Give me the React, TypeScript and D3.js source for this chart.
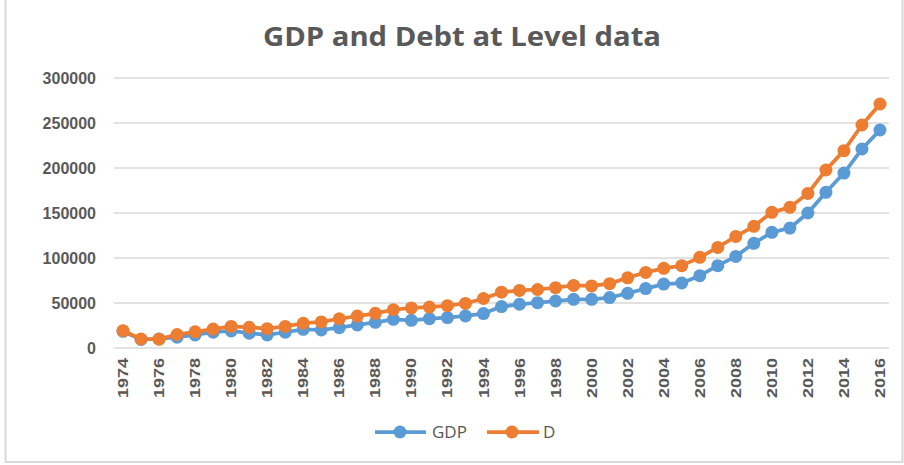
import React from "react";
import * as d3 from "d3";

const years = ["1974","1975","1976","1977","1978","1979","1980","1981","1982","1983","1984","1985","1986","1987","1988","1989","1990","1991","1992","1993","1994","1995","1996","1997","1998","1999","2000","2001","2002","2003","2004","2005","2006","2007","2008","2009","2010","2011","2012","2013","2014","2015","2016"];
const gdp = [18500,9500,10000,12000,14500,17500,19000,16500,14500,17500,20700,20000,22600,25600,28500,31900,30800,32600,33800,35600,38200,46000,48600,50400,52200,54100,54100,56000,60800,66000,71000,72200,80400,91500,101800,116300,128500,133300,150000,173000,194400,221100,242200];
const debt = [19200,10000,9800,15000,18000,21000,24000,23000,21500,24000,27500,29000,32500,35500,38500,42500,44500,45500,47000,49500,55000,62000,64000,65000,67000,69500,69000,71500,78000,84000,88500,91500,100700,111800,124000,135200,150700,156300,171800,197800,219300,247800,271100];
const yTicks = [0,50000,100000,150000,200000,250000,300000];
const xTickLabels = ["1974","1976","1978","1980","1982","1984","1986","1988","1990","1992","1994","1996","1998","2000","2002","2004","2006","2008","2010","2012","2014","2016"];
const seriesNames = ["GDP","D"];
const title = "GDP and Debt at Level data";

const BLUE = "#5B9BD5";
const ORANGE = "#ED7D31";
const TEXT = "#595959";
const GRID = "#D9D9D9";

export default function App() {
  const W = 904, H = 465;
  const left = 114, right = 889, top = 78, bottom = 348;
  const xb = d3.scaleBand<string>().domain(years).range([left, right]).padding(0);
  const x = (c: string) => (xb(c) as number) + xb.bandwidth() / 2;
  const y = d3.scaleLinear().domain([0, 300000]).range([bottom, top]);
  const line = d3.line<number>().x((_, i) => x(years[i])).y(d => y(d));
  const series = [
    { name: seriesNames[0], values: gdp, color: BLUE },
    { name: seriesNames[1], values: debt, color: ORANGE },
  ];
  const font = "'Liberation Sans', Arial, sans-serif";
  return (
    <svg width={W} height={H} style={{ position: "absolute", left: 0, top: 0, background: "#fff" }}>
      <rect x={5.5} y={-2} width={897} height={464} fill="#fff" stroke={GRID} strokeWidth={2} />
      <text x={462} y={46} textAnchor="middle" fontFamily="'Open Sans', sans-serif" fontWeight={700} fontSize={26} fill={TEXT} textLength={398} lengthAdjust="spacingAndGlyphs">{title}</text>
      {yTicks.map(t => (
        <g key={t}>
          <line x1={left} x2={right} y1={y(t)} y2={y(t)} stroke={GRID} strokeWidth={1.3} />
          <text x={96} y={y(t)} dy="0.36em" textAnchor="end" fontFamily={font} fontWeight={700} fontSize={16} fill={TEXT}>{t}</text>
        </g>
      ))}
      {xTickLabels.map(l => (
        <text key={l} transform={`translate(${x(l)},358) rotate(-90)`} textAnchor="end" dy="0.36em" fontFamily={font} fontWeight={700} fontSize={14} fill={TEXT} textLength={40} lengthAdjust="spacingAndGlyphs">{l}</text>
      ))}
      {series.map(s => (
        <g key={s.name}>
          <path d={line(s.values) as string} fill="none" stroke={s.color} strokeWidth={3.75} strokeLinejoin="round" />
          {s.values.map((v, i) => (
            <circle key={i} cx={x(years[i])} cy={y(v)} r={6.5} fill={s.color} />
          ))}
        </g>
      ))}
      <g>
        <line x1={375} x2={426} y1={432} y2={432} stroke={BLUE} strokeWidth={3.75} />
        <circle cx={400} cy={432} r={6.5} fill={BLUE} />
        <text x={432} y={432} dy="0.36em" fontFamily="'Open Sans', sans-serif" fontSize={17} fill={TEXT}>{seriesNames[0]}</text>
        <line x1={487} x2={539} y1={432} y2={432} stroke={ORANGE} strokeWidth={3.75} />
        <circle cx={512} cy={432} r={6.5} fill={ORANGE} />
        <text x={543} y={432} dy="0.36em" fontFamily="'Open Sans', sans-serif" fontSize={17} fill={TEXT}>{seriesNames[1]}</text>
      </g>
    </svg>
  );
}
